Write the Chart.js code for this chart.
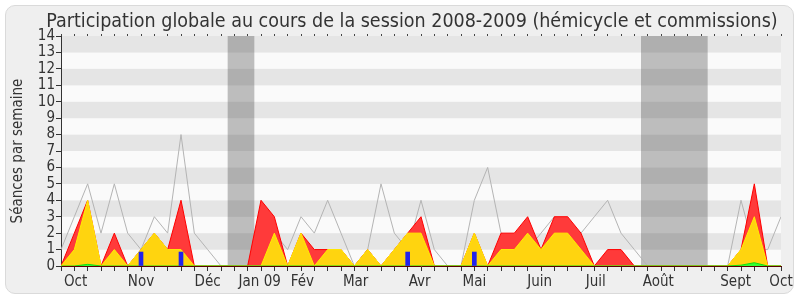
<!DOCTYPE html>
<html>
<head>
<meta charset="utf-8">
<script src="https://cdn.jsdelivr.net/npm/chart.js@4.4.1/dist/chart.umd.min.js"></script>
<style>
  html, body { margin: 0; padding: 0; background: #fff; }
  #wrap { position: relative; width: 800px; height: 300px; }
  #frame { position: absolute; left: 5px; top: 5px; width: 787px; height: 287px;
           border: 1px solid #dadada; border-radius: 10px; background: #efefef; }
  #chart { position: absolute; left: 0; top: 0; }
</style>
</head>
<body>
<div id="wrap"><div id="frame"></div><canvas id="chart" width="800" height="300"></canvas></div>
<script>
// séances par semaine, une valeur par semaine (55 semaines)
const total    = [0,2,4,0,2,0,1,2,1,4,0,0,0,0,0,4,3,0,2,1,1,1,0,1,0,1,2,3,0,0,0,2,0,2,2,3,1,3,3,2,0,1,1,0,0,0,0,0,0,0,0,1,5,0,0];
const hemicycle= [0,1,4,0,1,0,1,2,1,1,0,0,0,0,0,0,2,0,2,0,1,1,0,1,0,1,2,2,0,0,0,2,0,1,1,2,1,2,2,1,0,0,0,0,0,0,0,0,0,0,0,1,3,0,0];
const interv   = [0,0,0.1,0,0,0,0,0,0,0,0,0,0,0,0,0,0,0,0,0,0,0,0,0,0,0,0,0,0,0,0,0,0,0,0,0,0,0,0,0,0,0,0,0,0,0,0,0,0,0,0,0.05,0.2,0,0];
const questions= [null,null,null,null,null,null,0.85,null,null,0.85,null,null,null,null,null,null,null,null,null,null,null,null,null,null,null,null,0.85,null,null,null,null,0.85,null,null,null,null,null,null,null,null,null,null,null,null,null,null,null,null,null,null,null,null,null,null,null];
const mediane  = [1,3,5,2,5,2,1,3,2,8,2,1,0,0,0,3,2,1,3,2,4,2,0,1,5,2,1,4,1,0,0,4,6,2,1.5,1,2,3,1,2,3,4,2,1,0,0,0,0,0,0,0,4,1,1,3];

const monthTicks  = [1.1, 6, 11, 14.9, 18.1, 22.1, 26.9, 31, 35.9, 40.1, 44.8, 50.6, 54];
const monthLabels = ['Oct', 'Nov', 'Déc', 'Jan 09', 'Fév', 'Mar', 'Avr', 'Mai', 'Juin', 'Juil', 'Août', 'Sept', 'Oct'];
const vacances    = [[12.5, 14.5], [43.5, 48.5]];
const titre = 'Participation globale au cours de la session 2008-2009 (hémicycle et commissions)';

const weeks = total.map((_, i) => i);
const FONT = '"DejaVu Sans Condensed", "DejaVu Sans", sans-serif';
const TXT = '#333';

// fond rayé + vacances parlementaires
const bandsPlugin = {
  id: 'bands',
  beforeDraw(chart) {
    const { ctx, chartArea: a, scales: { x, y } } = chart;
    ctx.save();
    for (let v = 0; v < 14; v++) {
      const top = y.getPixelForValue(v + 1), bot = y.getPixelForValue(v);
      ctx.fillStyle = v % 2 ? '#e5e5e5' : '#fafafa';
      ctx.fillRect(a.left, top, a.right - a.left, bot - top);
    }
    ctx.fillStyle = 'rgba(70,70,70,0.34)';
    for (const [s, e] of vacances) {
      const l = x.getPixelForValue(s), r = x.getPixelForValue(e);
      ctx.fillRect(l, a.top, r - l, a.bottom - a.top);
    }
    ctx.restore();
  },
  // titre un peu décalé à droite comme sur l'original
  afterDraw(chart) {
    const { ctx } = chart;
    ctx.save();
    ctx.font = '19.5px ' + FONT;
    ctx.fillStyle = TXT;
    ctx.textAlign = 'center';
    ctx.textBaseline = 'alphabetic';
    ctx.fillText(titre, 412, 26.5);
    ctx.restore();
  }
};

const weekTicks = s => { s.ticks = weeks.map(v => ({ value: v })); };

new Chart(document.getElementById('chart'), {
  type: 'line',
  data: {
    labels: weeks,
    datasets: [
      { type: 'bar', data: questions, backgroundColor: '#2222ee', barThickness: 4, order: 0 },
      { data: interv, borderColor: '#11dd11', backgroundColor: '#33ff33', borderWidth: 1, fill: 'origin', order: 1 },
      { data: hemicycle, borderColor: '#ffee00', backgroundColor: '#ffd40f', borderWidth: 1, fill: 'origin', order: 2 },
      { data: total, borderColor: '#ff0000', backgroundColor: '#ff3a3a', borderWidth: 1, fill: 'origin', order: 3 },
      { data: mediane, borderColor: '#b4b4b4', borderWidth: 1, fill: false, order: 4 }
    ]
  },
  options: {
    responsive: false,
    animation: false,
    devicePixelRatio: 1,
    elements: { point: { radius: 0 }, line: { tension: 0 } },
    layout: { padding: { left: 5, right: 19, top: 34, bottom: 7 } },
    plugins: {
      legend: { display: false },
      tooltip: { enabled: false },
      title: { display: false }
    },
    scales: {
      x: {
        type: 'linear', position: 'bottom', min: 0, max: 54, offset: false,
        afterBuildTicks: weekTicks,
        afterFit: s => { s.height = 5; },
        ticks: { display: false },
        grid: { drawOnChartArea: false, offset: false, tickLength: 5, tickColor: '#333' },
        border: { color: '#5a0000' }
      },
      xm: {
        type: 'linear', position: 'bottom', min: 0, max: 54, offset: false,
        afterBuildTicks: s => { s.ticks = monthTicks.map(v => ({ value: v })); },
        afterFit: s => { s.height = 22; },
        ticks: { autoSkip: false, maxRotation: 0, padding: 2, color: TXT,
                 font: { family: FONT, size: 15 },
                 callback: (v, i) => monthLabels[i] },
        grid: { display: false, drawTicks: false },
        border: { display: false }
      },
      xt: {
        type: 'linear', position: 'top', min: 0, max: 54, offset: false,
        afterBuildTicks: weekTicks,
        ticks: { display: false },
        grid: { drawOnChartArea: false, offset: false, tickLength: 2, tickColor: '#444' },
        border: { display: false }
      },
      y: {
        min: 0, max: 14,
        afterFit: s => { s.width = 56; },
        ticks: { stepSize: 1, autoSkip: false, padding: 1, color: TXT, font: { family: FONT, size: 15 } },
        grid: { drawOnChartArea: false, tickLength: 5, tickColor: '#333' },
        border: { color: '#333' },
        title: { display: true, text: 'Séances par semaine', color: TXT,
                 font: { family: FONT, size: 15 }, padding: { top: 4, bottom: 0 } }
      }
    }
  },
  plugins: [bandsPlugin]
});
</script>
</body>
</html>
